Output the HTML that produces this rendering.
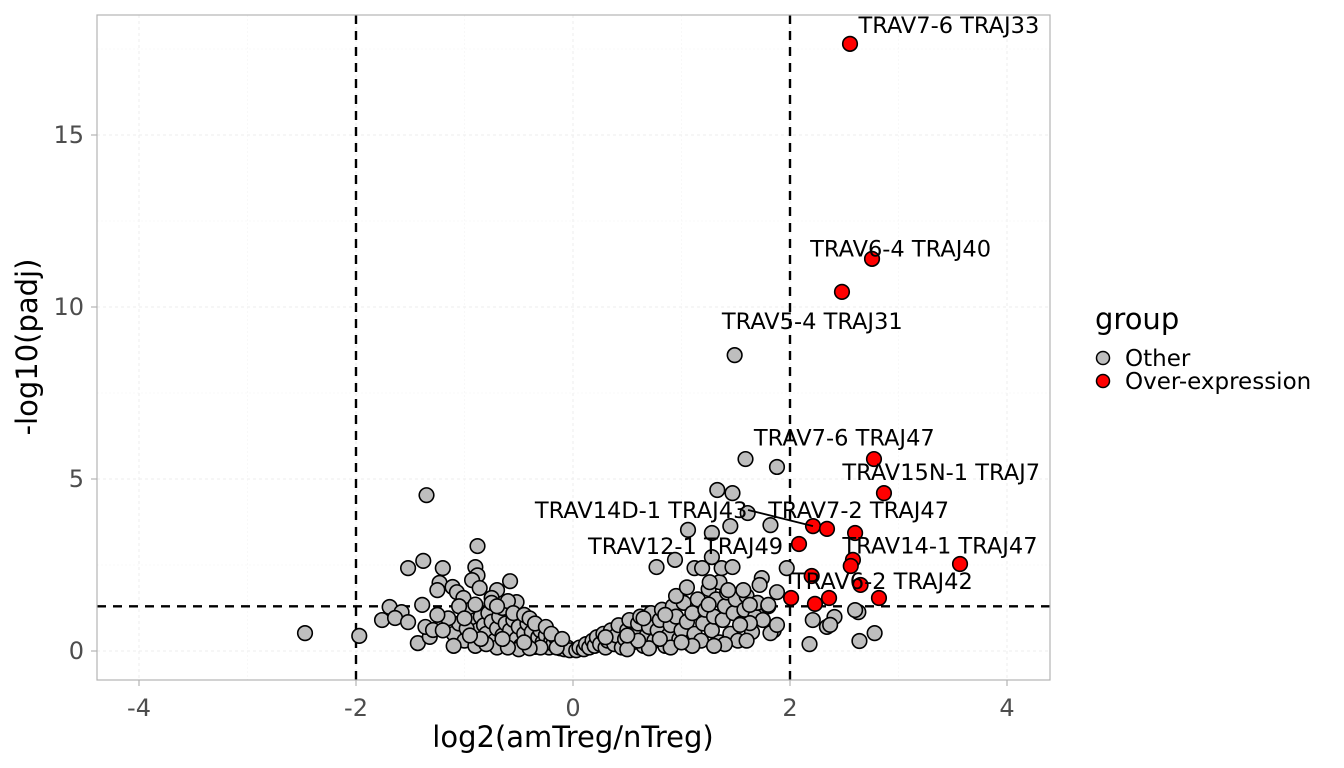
<!DOCTYPE html>
<html><head><meta charset="utf-8"><style>
html,body{margin:0;padding:0;background:#fff}
svg{display:block;font-family:"DejaVu Sans","Liberation Sans",sans-serif}
</style></head><body>
<svg id="chart" width="1344" height="768" viewBox="0 0 1344 768">
<g id="grid"></g>
<g id="vlines"></g>
<g id="pts"></g>
<g id="labels"></g>
<rect x="97" y="15" width="953" height="665" fill="none" stroke="#b3b3b3" stroke-width="1.2"/>
<g id="axes"></g>
<text x="573" y="747" text-anchor="middle" font-size="29" fill="#000">log2(amTreg/nTreg)</text>
<text transform="translate(37,347) rotate(-90)" text-anchor="middle" font-size="29" fill="#000">-log10(padj)</text>
<g>
<text x="1095" y="329" font-size="29">group</text>
<g><circle cx="1103" cy="358" r="6.5" fill="#bebebe" stroke="#000" stroke-width="1.5"/><text x="1125" y="366" font-size="23">Other</text></g>
<g><circle cx="1103" cy="381" r="6.5" fill="#ff0000" stroke="#000" stroke-width="1.5"/><text x="1125" y="389" font-size="23">Over-expression</text></g>
</g>
</svg>
<script>
const xTicks=[-4,-2,0,2,4];
const yTicks=[0,5,10,15];
const grayX=[-2.47,-1.97,-1.35,-1.52,-1.38,-1.2,-0.88,-0.9,-0.88,-0.93,-0.58,-1.23,-1.25,-1.11,-1.07,-1.01,-0.86,-0.7,-0.75,-0.52,-1.69,-1.58,-1.76,-1.64,-1.52,-1.39,-1.43,-1.32,-1.36,-1.29,
-0.95,-0.9,-0.88,-0.85,-0.82,-0.8,-0.78,-0.75,-0.72,-0.7,-0.68,-0.65,-0.62,-0.6,-0.58,-0.55,-0.52,-0.5,-0.48,-0.45,-0.42,-0.4,-0.38,-0.35,-0.32,-0.3,-0.28,-0.25,-0.22,-0.2,-0.18,-0.15,-0.12,-0.1,-0.08,-0.05,-0.03,-1.1,-1.05,-1.0,-0.98,-1.15,-1.2,-1.25,-1.05,-0.9,-0.65,-0.6,-0.55,-0.45,-0.4,-0.35,-0.3,-0.5,-0.7,-0.9,-1.1,-0.8,-0.6,-0.4,-0.25,-0.2,-0.15,-0.1,-0.45,-0.65,-0.85,-0.95,-1.0,-0.75,-0.7,
0.03,0.06,0.1,0.12,0.15,0.18,0.2,0.22,0.25,0.28,0.3,0.32,0.35,0.38,0.4,0.42,0.45,0.48,0.5,0.52,0.55,0.58,0.6,0.62,0.65,0.68,0.7,0.72,0.75,0.78,0.8,0.82,0.85,0.88,0.9,0.92,0.95,0.98,1.0,1.02,1.05,1.08,1.1,1.12,1.15,1.18,1.2,1.22,1.25,1.28,1.3,1.32,1.35,1.38,1.4,1.42,1.45,1.48,1.5,1.52,1.55,1.58,1.6,1.65,1.68,1.7,1.75,1.8,1.85,0.5,0.7,0.9,1.1,0.6,0.8,1.0,0.3,0.5,0.65,0.85,0.95,1.05,1.25,1.35,1.4,1.3,1.6,
1.49,1.59,1.88,1.33,1.47,1.61,1.82,1.45,1.06,1.28,0.94,0.77,1.12,1.19,1.37,1.47,1.28,1.97,1.74,1.72,1.88,1.8,1.63,1.57,1.43,1.26,2.21,2.41,2.34,2.37,2.63,2.6,2.78,2.64,2.18,1.82,1.88,1.63,1.54];
const grayY=[0.52,0.44,4.53,2.41,2.62,2.41,3.05,2.44,2.2,2.06,2.03,1.98,1.77,1.86,1.71,1.54,1.83,1.77,1.54,1.42,1.28,1.13,0.9,0.96,0.84,1.34,0.23,0.41,0.7,0.61,
1.2,0.9,0.6,1.0,0.75,0.5,1.1,0.85,0.3,0.65,1.0,0.45,0.8,0.2,0.6,0.9,0.35,0.7,0.15,0.5,0.8,0.3,0.55,0.12,0.4,0.6,0.25,0.45,0.1,0.3,0.2,0.35,0.08,0.2,0.05,0.1,0.02,0.5,0.8,0.3,0.65,0.95,0.6,1.05,1.3,1.35,1.25,1.45,1.1,1.05,0.95,0.8,0.1,0.05,0.1,0.15,0.15,0.2,0.1,0.08,0.7,0.5,0.1,0.35,0.25,0.35,0.35,0.45,0.95,1.4,1.3,
0.02,0.1,0.05,0.2,0.1,0.3,0.15,0.4,0.2,0.5,0.1,0.3,0.6,0.2,0.45,0.75,0.1,0.35,0.6,0.9,0.25,0.5,0.8,1.0,0.15,0.45,0.7,1.1,0.3,0.6,0.9,1.2,0.15,0.45,0.75,1.3,1.0,0.35,0.6,1.4,0.85,0.2,1.1,0.5,1.5,0.3,0.8,1.2,1.8,0.6,1.0,1.5,0.25,0.9,1.3,1.7,0.5,1.1,1.5,0.3,0.8,1.2,1.6,0.55,1.0,1.4,0.9,1.3,0.6,0.05,0.08,0.1,0.15,0.3,0.35,0.25,0.4,0.45,0.95,1.05,1.6,1.85,1.35,2.0,0.2,0.15,0.3,
8.6,5.58,5.35,4.68,4.59,4.01,3.66,3.63,3.52,3.43,2.65,2.44,2.41,2.41,2.41,2.44,2.73,2.41,2.12,1.92,1.71,1.34,1.34,1.77,1.77,2.0,0.9,0.99,0.7,0.76,1.13,1.19,0.52,0.29,0.2,0.52,0.76,0.81,0.76];
const redX=[2.553,2.756,2.479,2.774,2.866,2.212,2.341,2.6,2.083,3.567,2.58,2.56,2.2,2.65,2.36,2.01,2.82,2.23];
const redY=[17.65,11.4,10.44,5.58,4.59,3.63,3.55,3.43,3.11,2.53,2.65,2.47,2.18,1.92,1.54,1.54,1.54,1.37];
const labelText=["TRAV7-6 TRAJ33","TRAV6-4 TRAJ40","TRAV5-4 TRAJ31","TRAV7-6 TRAJ47","TRAV15N-1 TRAJ7","TRAV14D-1 TRAJ43","TRAV7-2 TRAJ47","TRAV12-1 TRAJ49","TRAV14-1 TRAJ47","TRAV6-2 TRAJ42"];
const labelX=[2.631,2.186,1.372,1.667,2.483,-0.351,1.799,0.138,2.483,2.018];
const labelY=[18.2,11.7,9.6,6.2,5.2,4.1,4.1,3.05,3.06,2.04];
const NS="http://www.w3.org/2000/svg";
const sx=v=>573+v*108.5, sy=v=>651-v*34.4;
function mk(tag,attrs,parent){const e=document.createElementNS(NS,tag);for(const k in attrs)e.setAttribute(k,attrs[k]);parent.appendChild(e);return e;}
const grid=document.getElementById('grid'),axes=document.getElementById('axes');
[-3,-1,1,3].forEach(v=>{const l=mk('line',{x1:sx(v),x2:sx(v),y1:15,y2:680,stroke:'#f4f4f4','stroke-width':0.6,'stroke-dasharray':'2,2'},grid);});
[2.5,7.5,12.5,17.5].forEach(v=>{const l=mk('line',{x1:97,x2:1050,y1:sy(v),y2:sy(v),stroke:'#f4f4f4','stroke-width':0.6,'stroke-dasharray':'2,2'},grid);});
xTicks.forEach(v=>{const l=mk('line',{x1:sx(v),x2:sx(v),y1:15,y2:680,stroke:'#eeeeee','stroke-width':1,'stroke-dasharray':'3,3'},grid);
 const t=mk('line',{x1:sx(v),x2:sx(v),y1:680,y2:686,stroke:'#b3b3b3','stroke-width':1.2},axes);
 const tx=mk('text',{x:sx(v),y:716,'text-anchor':'middle','font-size':24,fill:'#4d4d4d'},axes);tx.textContent=v;});
yTicks.forEach(v=>{const l=mk('line',{x1:97,x2:1050,y1:sy(v),y2:sy(v),stroke:'#eeeeee','stroke-width':1,'stroke-dasharray':'3,3'},grid);
 const t=mk('line',{x1:91,x2:97,y1:sy(v),y2:sy(v),stroke:'#b3b3b3','stroke-width':1.2},axes);
 const tx=mk('text',{x:84,y:sy(v)+8,'text-anchor':'end','font-size':24,fill:'#4d4d4d'},axes);tx.textContent=v;});
const vl=document.getElementById('vlines');
[-2,2].forEach(v=>{const l=mk('line',{x1:sx(v),x2:sx(v),y1:15,y2:680,stroke:'#000','stroke-width':2.4,'stroke-dasharray':'9,7'},vl);});
const hl=mk('line',{x1:97,x2:1050,y1:sy(1.3),y2:sy(1.3),stroke:'#000','stroke-width':2.4,'stroke-dasharray':'9,7'},vl);


const pts=document.getElementById('pts');
grayX.forEach((x,i)=>{const c=mk('circle',{cx:sx(x),cy:sy(grayY[i]),r:7.3,fill:'#bebebe',stroke:'#000','stroke-width':1.6},pts);});
const lab=document.getElementById('labels');
const seg=mk('line',{x1:748,y1:510,x2:sx(redX[5]),y2:sy(redY[5]),stroke:'#000','stroke-width':1.8},lab);


redX.forEach((x,i)=>{const c=mk('circle',{cx:sx(x),cy:sy(redY[i]),r:7.3,fill:'#ff0000',stroke:'#000','stroke-width':1.6},pts);});
labelText.forEach((s,i)=>{const t=mk('text',{x:sx(labelX[i]),y:sy(labelY[i])+8,'font-size':22.5,fill:'#000'},lab);t.textContent=s;});
</script>
</body></html>
